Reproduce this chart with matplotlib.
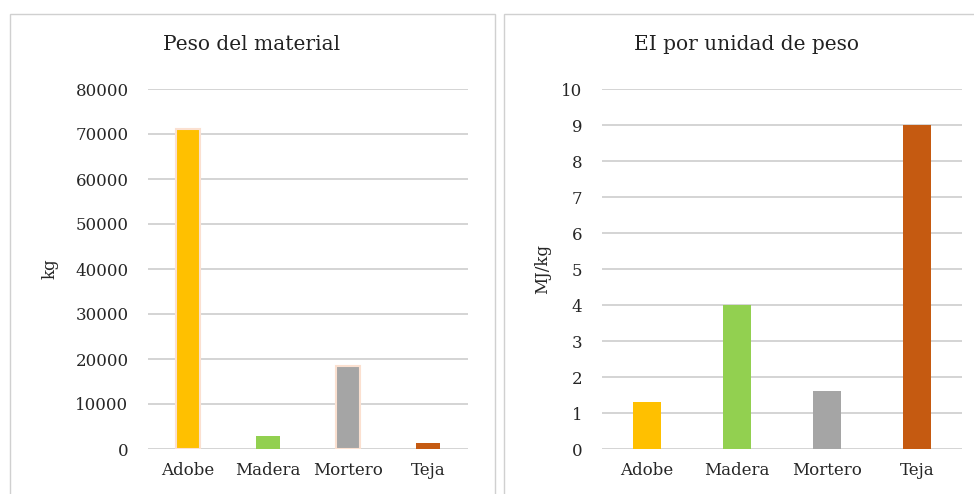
import matplotlib
matplotlib.use('Agg')
import matplotlib.pyplot as plt
from matplotlib.patches import Rectangle

materials = ['Adobe', 'Madera', 'Mortero', 'Teja']
peso_kg = [71000, 3000, 18500, 1400]
ei_mj_kg = [1.3, 4.0, 1.6, 9.0]
colors = ['#ffc000', '#92d050', '#a5a5a5', '#c55a11']
peso_edges = ['#fbe0d0', 'none', '#fbe0d0', 'none']

plt.rcParams['font.family'] = ['DejaVu Serif']

W, H = 974, 494
fig = plt.figure(figsize=(W / 100, H / 100), dpi=100)

# panel frames
for x0, x1 in [(10, 495), (504, 985)]:
    fig.patches.append(Rectangle((x0 / W, -0.05), (x1 - x0) / W, 1.05 - 14 / H,
                                 transform=fig.transFigure, fill=False,
                                 edgecolor='#d0d0d0', linewidth=1))


def style(ax):
    for s in ax.spines.values():
        s.set_visible(False)
    ax.yaxis.grid(True, color='#d4d4d4', linewidth=1.4)
    ax.set_axisbelow(True)
    ax.tick_params(length=0, colors='#262626')
    ax.tick_params(axis='y', pad=14, labelsize=12)
    ax.tick_params(axis='x', pad=9, labelsize=12)


ax1 = fig.add_axes([148 / W, 1 - 449 / H, 320 / W, 360 / H])
ax1.bar(materials, peso_kg, width=0.29, color=colors, edgecolor=peso_edges, linewidth=1.5)
ax1.set_ylim(0, 80000)
ax1.set_yticks(range(0, 80001, 10000))
ax1.set_xlim(-0.5, 3.5)
style(ax1)
ax1.set_ylabel('kg', fontsize=12, va='center', color='#262626')
ax1.yaxis.set_label_coords((50 - 148) / 320, 0.5)
fig.text(252 / W, 1 - 45 / H, 'Peso del material', ha='center', va='center', fontsize=14.5, color='#222222')

ax2 = fig.add_axes([602 / W, 1 - 449 / H, 360 / W, 360 / H])
ax2.bar(materials, ei_mj_kg, width=0.31, color=colors)
ax2.set_ylim(0, 10)
ax2.set_yticks(range(0, 11))
ax2.set_xlim(-0.5, 3.5)
style(ax2)
ax2.set_ylabel('MJ/kg', fontsize=12, va='center', color='#262626')
ax2.yaxis.set_label_coords((543 - 602) / 360, 0.5)
fig.text(747 / W, 1 - 45 / H, 'EI por unidad de peso', ha='center', va='center', fontsize=14.5, color='#222222')

fig.savefig('out.png', dpi=100)
